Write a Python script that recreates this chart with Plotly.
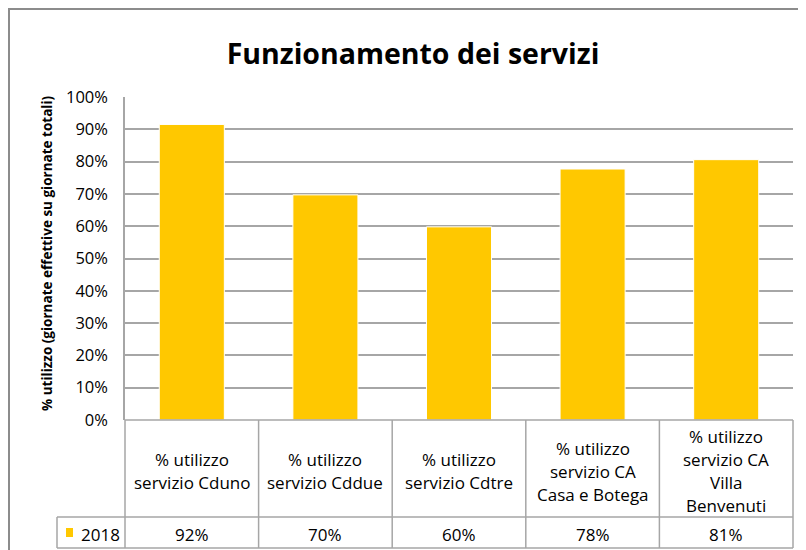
import plotly.graph_objects as go

# ---- data ----
labels = ["% utilizzo\nservizio Cduno", "% utilizzo\nservizio Cddue", "% utilizzo\nservizio Cdtre",
          "% utilizzo\nservizio CA\nCasa e Botega", "% utilizzo\nservizio CA\nVilla\nBenvenuti"]
series_name = "2018"
values = [0.915, 0.697, 0.598, 0.777, 0.806]
y_ticks = [0, 0.1, 0.2, 0.3, 0.4, 0.5, 0.6, 0.7, 0.8, 0.9, 1.0]

BAR = '#FFC800'
GRID = '#A6A6A6'
FONT = 'Open Sans, sans-serif'
TXT = 17  # table text size

OFF = 8  # page body margin
W, H = 806 - OFF, 550 - OFF
L, R, T, B = 125 - OFF, 13, 97 - OFF, 130
pw, ph = W - L - R, H - T - B


def px(x):  # page pixel x -> paper x
    return (x - OFF - L) / pw


def py(y):  # page pixel y -> paper y
    return (H - B - (y - OFF)) / ph


cats = [s.replace("\n", " ") for s in labels]

fig = go.Figure(go.Bar(
    x=cats, y=values, name=series_name,
    marker=dict(color=BAR, line=dict(color='white', width=1)),
    showlegend=False,
))

fig.update_layout(
    width=W, height=H,
    margin=dict(l=L, r=R, t=T, b=B),
    paper_bgcolor='white', plot_bgcolor='white',
    font=dict(family=FONT, color='black', size=TXT),
    bargap=0.513,
    title=dict(text='<b>Funzionamento dei servizi</b>', font=dict(size=28.5, family=FONT),
               x=(413 - OFF) / W, xanchor='center', y=1 - (54 - OFF) / H, yanchor='middle'),
    xaxis=dict(showticklabels=False, showgrid=False, zeroline=False, showline=False,
               range=[-0.5, len(cats) - 0.5]),
    yaxis=dict(range=[0, 1], tickvals=y_ticks, tickformat='.0%',
               showgrid=True, gridcolor=GRID, gridwidth=1.5,
               showline=True, linecolor=GRID, linewidth=1.5,
               zeroline=False, ticks='', ticklabelstandoff=12,
               tickfont=dict(size=16.5)),
)

line = dict(color=GRID, width=1.5)
shapes = []
# outer chart border
shapes.append(dict(type='rect', xref='paper', yref='paper',
                   x0=px(OFF + 1), x1=px(806 + 20), y0=py(9), y1=py(550 + 20),
                   line=dict(color='#8C8C8C', width=2), layer='below'))
# data table grid
y_top, y_mid, y_bot = 0, py(517), py(548)
x_leg = px(57)
shapes.append(dict(type='line', xref='paper', yref='paper', x0=0, x1=1, y0=y_top, y1=y_top, line=line))
shapes.append(dict(type='line', xref='paper', yref='paper', x0=x_leg, x1=1, y0=y_mid, y1=y_mid, line=line))
shapes.append(dict(type='line', xref='paper', yref='paper', x0=x_leg, x1=1, y0=y_bot, y1=y_bot, line=line))
shapes.append(dict(type='line', xref='paper', yref='paper', x0=x_leg, x1=x_leg, y0=y_mid, y1=y_bot, line=line))
n = len(cats)
for k in range(n + 1):
    shapes.append(dict(type='line', xref='paper', yref='paper', x0=k / n, x1=k / n,
                       y0=y_top, y1=y_bot, line=line))
# legend key
shapes.append(dict(type='rect', xref='paper', yref='paper', x0=px(66), x1=px(73),
                   y0=py(528), y1=py(537), fillcolor=BAR, line=dict(width=0)))
fig.update_layout(shapes=shapes)

ann = []
# category header cells
for c, lab in zip(cats, labels):
    parts = lab.split("\n")
    m = len(parts)
    for i, p in enumerate(parts):
        yy = 471 + (i - (m - 1) / 2) * 23
        ann.append(dict(x=c, xref='x', y=py(yy), yref='paper', text=p, showarrow=False,
                        xanchor='center', yanchor='middle', font=dict(size=TXT)))
# values row
for c, v in zip(cats, values):
    ann.append(dict(x=c, xref='x', y=py(534), yref='paper', text=f"{v:.0%}", showarrow=False,
                    xanchor='center', yanchor='middle', font=dict(size=TXT)))
ann.append(dict(x=px(79), xref='paper', y=py(534), yref='paper', text=series_name,
                showarrow=False, xanchor='left', yanchor='middle', font=dict(size=TXT)))
# y axis title
ann.append(dict(x=px(47), xref='paper', y=py(253), yref='paper', textangle=-90,
                text='<b>% utilizzo (giornate effettive su giornate totali)</b>',
                showarrow=False, xanchor='center', yanchor='middle', font=dict(size=13.5)))
fig.update_layout(annotations=ann)

fig.write_html("out.html")
